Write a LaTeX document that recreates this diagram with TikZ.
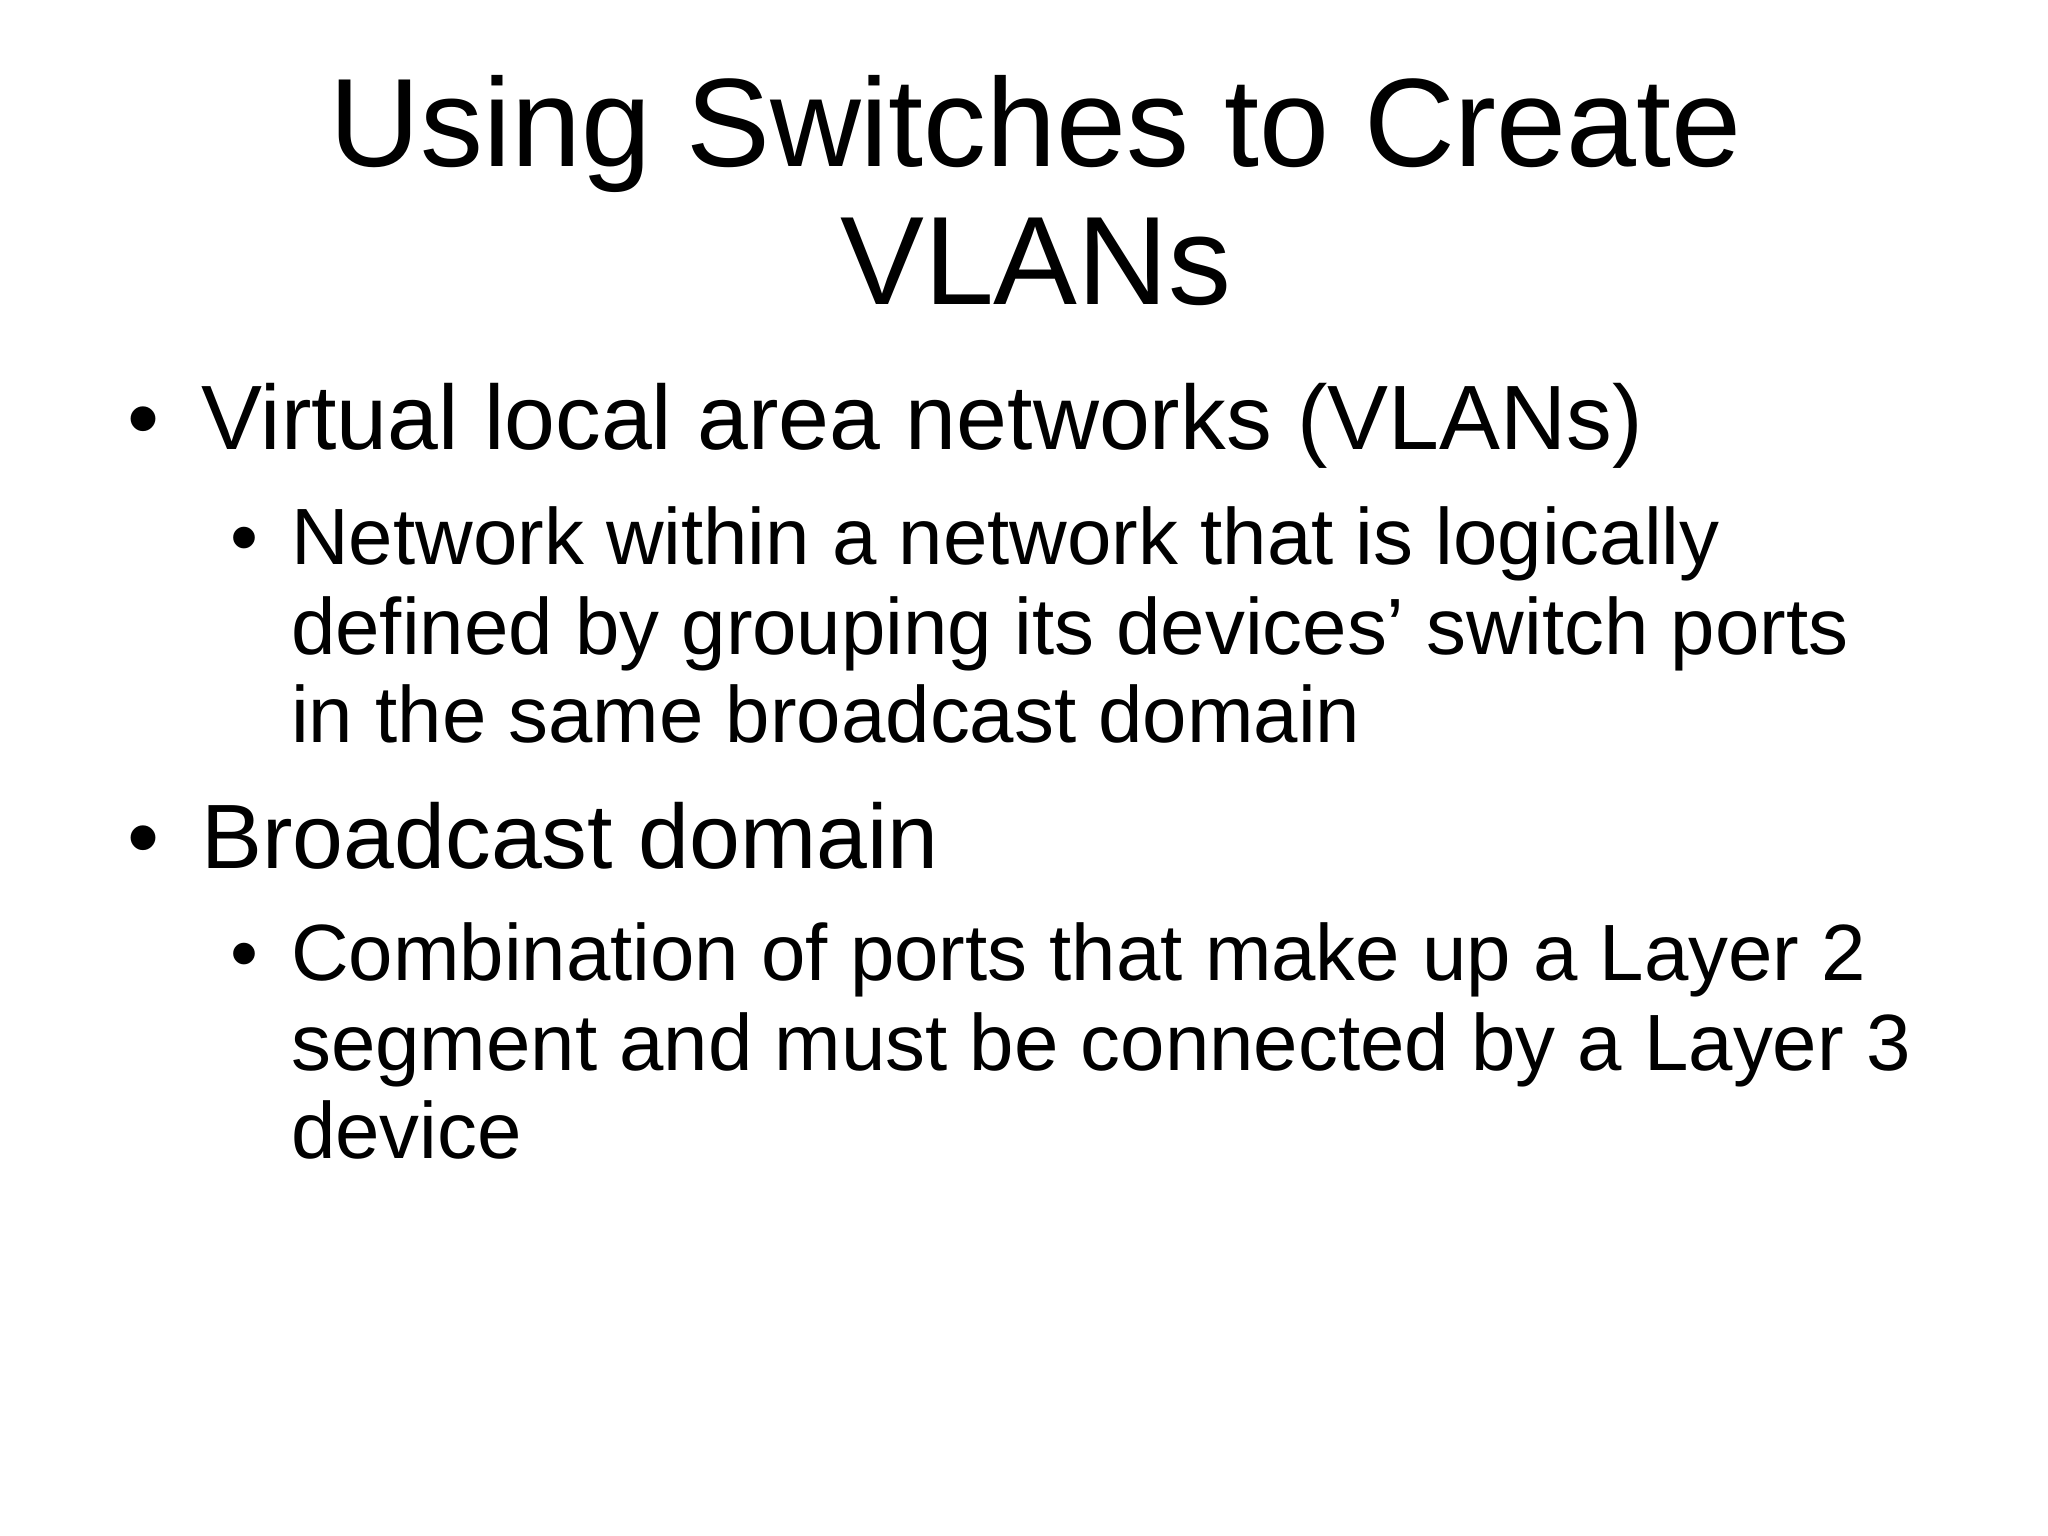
\documentclass[tikz,border=0pt]{standalone}
\usepackage{fontspec}
\setmainfont{Liberation Sans}
\begin{document}
\begin{tikzpicture}[x=0.01cm,y=-0.01cm,
  title/.style={anchor=base,inner sep=0pt,font=\fontsize{27.1}{31}\selectfont},
  lone/.style={anchor=base west,inner sep=0pt,font=\fontsize{19.7}{22}\selectfont},
  ltwo/.style={anchor=base west,inner sep=0pt,font=\fontsize{17.2}{19.3}\selectfont}]
\useasboundingbox (0,0) rectangle (1552,1164);
\node[title] (t1) at (785,126) {Using Switches to Create};
\node[title] (t2) at (785,231) {VLANs};
\node[lone] (b1) at (96,341) {•};
\node[lone] (x1) at (152,341) {Virtual local area networks (VLANs)};
\node[ltwo] (s1) at (174,428) {•};
\node[ltwo] (y1) at (220,428) {Network within a network that is logically};
\node[ltwo] (y2) at (220,496) {defined by grouping its devices’ switch ports};
\node[ltwo] (y3) at (220,563) {in the same broadcast domain};
\node[lone] (b2) at (96,658) {•};
\node[lone] (x2) at (152,658) {Broadcast domain};
\node[ltwo] (s2) at (174,743) {•};
\node[ltwo] (z1) at (220,743) {Combination of ports that make up a Layer 2};
\node[ltwo] (z2) at (220,811) {segment and must be connected by a Layer 3};
\node[ltwo] (z3) at (220,878) {device};
\end{tikzpicture}
\end{document}
